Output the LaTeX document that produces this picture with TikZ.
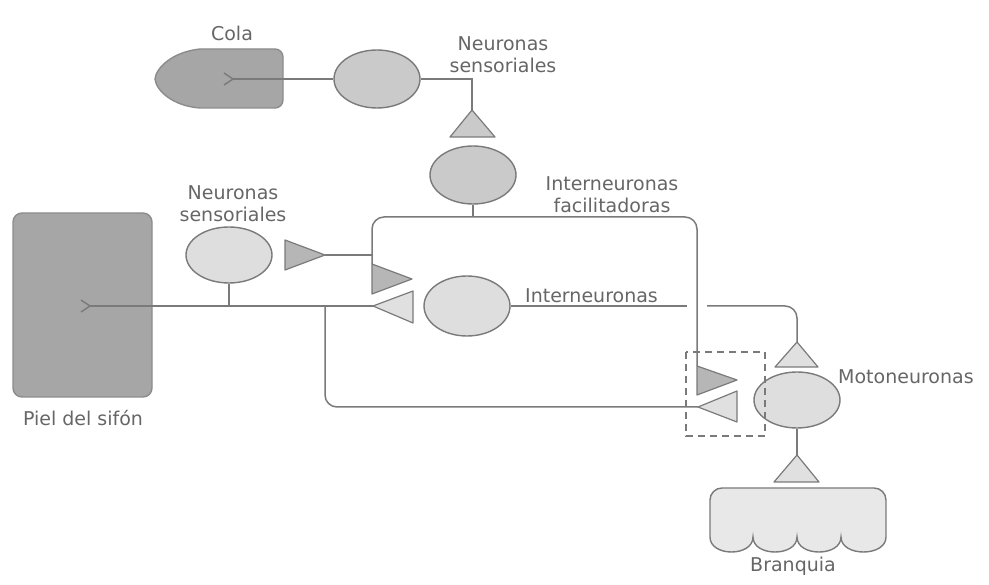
\documentclass[tikz,border=0pt]{standalone}
\usepackage{fontspec}
\setmainfont{DejaVu Sans}
\usetikzlibrary{shapes.geometric}
\definecolor{ln}{HTML}{7A7A7A}
\definecolor{txt}{HTML}{666666}
\definecolor{darkfill}{HTML}{A6A6A6}
\definecolor{darkedge}{HTML}{8C8C8C}
\definecolor{midfill}{HTML}{CACACA}
\definecolor{lightfill}{HTML}{DEDEDE}
\definecolor{tridark}{HTML}{B6B6B6}
\definecolor{trilight}{HTML}{E0E0E0}
\definecolor{gillfill}{HTML}{E8E8E8}
\begin{document}
\begin{tikzpicture}[x=1pt,y=-1pt,
  axon/.style={draw=ln, line width=1.5pt},
  neu/.style={ellipse, draw=ln, line width=1.4pt, inner sep=0pt, minimum width=86pt, minimum height=58pt},
  tridk/.style={fill=tridark, draw=ln, line width=1.2pt, line join=round},
  trilt/.style={fill=trilight, draw=ln, line width=1.2pt, line join=round},
  organ/.style={fill=darkfill, draw=darkedge, line width=1.4pt},
  lbl/.style={text=txt, font=\fontsize{19}{22}\selectfont, inner sep=0pt, align=center},
  dashbox/.style={draw=ln, line width=1.4pt, dash pattern=on 7pt off 5pt}
]
\useasboundingbox (0,0) rectangle (989,585);

% ---------- organs ----------
% Cola
\path[organ] (200,49) -- (275,49) to[out=0,in=90] (283,57) -- (283,100)
  to[out=-90,in=0] (275,108) -- (200,108)
  .. controls (172,106) and (156,90) .. (155,79)
  .. controls (156,68) and (172,52) .. (200,49) -- cycle;
\draw[draw=ln, line width=1.4pt] (224,73) .. controls (229,76) .. (233,79) .. controls (229,82) .. (224,85);
\coordinate (colaEnd) at (233,79);

% Piel del sifon
\path[organ, rounded corners=9pt] (13,213) rectangle (152,397);
\draw[draw=ln, line width=1.4pt] (81,300) .. controls (86,303) .. (90,306) .. controls (86,309) .. (81,312);
\coordinate (pielEnd) at (90,306);

% Branquia
\path[fill=gillfill, draw=ln, line width=1.4pt]
  (710,537) -- (710,500) to[out=90,in=180] (722,488) -- (874,488) to[out=0,in=90] (886,500) -- (886,537)
  .. controls (886,557) and (841,557) .. (841,537)
  .. controls (841,557) and (797,557) .. (797,537)
  .. controls (797,557) and (753,557) .. (753,537)
  .. controls (753,557) and (710,557) .. (710,537) -- cycle;

% ---------- neurons ----------
\node[neu, fill=midfill] (colaN) at (377,79) {};
\node[neu, fill=midfill] (facN) at (473,175) {};
\node[neu, fill=lightfill, minimum height=56pt] (sensN) at (229,255) {};
\node[neu, fill=lightfill, minimum height=60pt] (intN) at (467,306) {};
\node[neu, fill=lightfill, minimum height=56pt] (motN) at (797,400) {};

% ---------- synaptic terminals ----------
\path[trilt, fill=midfill] (472,110) -- (495,137) -- (450,137) -- cycle;
\coordinate (t0apex) at (472,110);
\path[tridk] (285,240) -- (325,255) -- (285,270) -- cycle;
\coordinate (t1tip) at (325,255);
\path[tridk] (372,264) -- (412,279) -- (372,294) -- cycle;
\coordinate (t2top) at (372,264);
\path[trilt] (373,306) -- (413,291) -- (413,323) -- cycle;
\coordinate (t3tip) at (373,306);
\path[tridk] (697,366) -- (737,380) -- (697,395) -- cycle;
\coordinate (t4top) at (697,366);
\path[trilt] (698,407) -- (737,391) -- (737,422) -- cycle;
\coordinate (t5tip) at (698,407);
\path[trilt] (797,342) -- (818,367) -- (775,367) -- cycle;
\coordinate (tmapex) at (797,342);
\path[trilt] (797,455) -- (819,482) -- (774,482) -- cycle;
\coordinate (tgapex) at (797,455);

% ---------- connectors ----------
\coordinate (facj) at (473,217);
\coordinate (br) at (325,306);
\coordinate (gapL) at (687,306);
\coordinate (gapR) at (707,306);

\draw[axon] (colaEnd) -- (colaN.west);
\draw[axon] (colaN.east) -| (t0apex);
\draw[axon] (facN.south) -- (facj);
\draw[axon, rounded corners=12pt] (t2top) |- (facj) -| (t4top);
\draw[axon] (pielEnd) -- (t3tip);
\draw[axon] (sensN.south) -- (sensN.south |- pielEnd);
\draw[axon, rounded corners=12pt] (br) |- (t5tip);
\draw[axon] (t1tip) -- (t1tip -| t2top);
\draw[axon] (intN.east) -- (gapL);
\draw[axon, rounded corners=12pt] (gapR) -| (tmapex);
\draw[axon] (motN.south) -- (tgapex);

% dashed box
\draw[dashbox] (686,352) rectangle (765,436);

% ---------- labels ----------
\node[lbl] (lCola) at (232,33) {Cola};
\node[lbl] (lSens1) at (503,55) {Neuronas\\sensoriales};
\node[lbl] (lFac) at (612,195) {Interneuronas\\facilitadoras};
\node[lbl] (lSens2) at (233,204) {Neuronas\\sensoriales};
\node[lbl, anchor=west] (lInt) at (525,296) {Interneuronas};
\node[lbl, anchor=west] (lMot) at (838,377) {Motoneuronas};
\node[lbl] (lPiel) at (83,418) {Piel del sifón};
\node[lbl] (lBr) at (793,566) {Branquia};
\end{tikzpicture}
\end{document}
